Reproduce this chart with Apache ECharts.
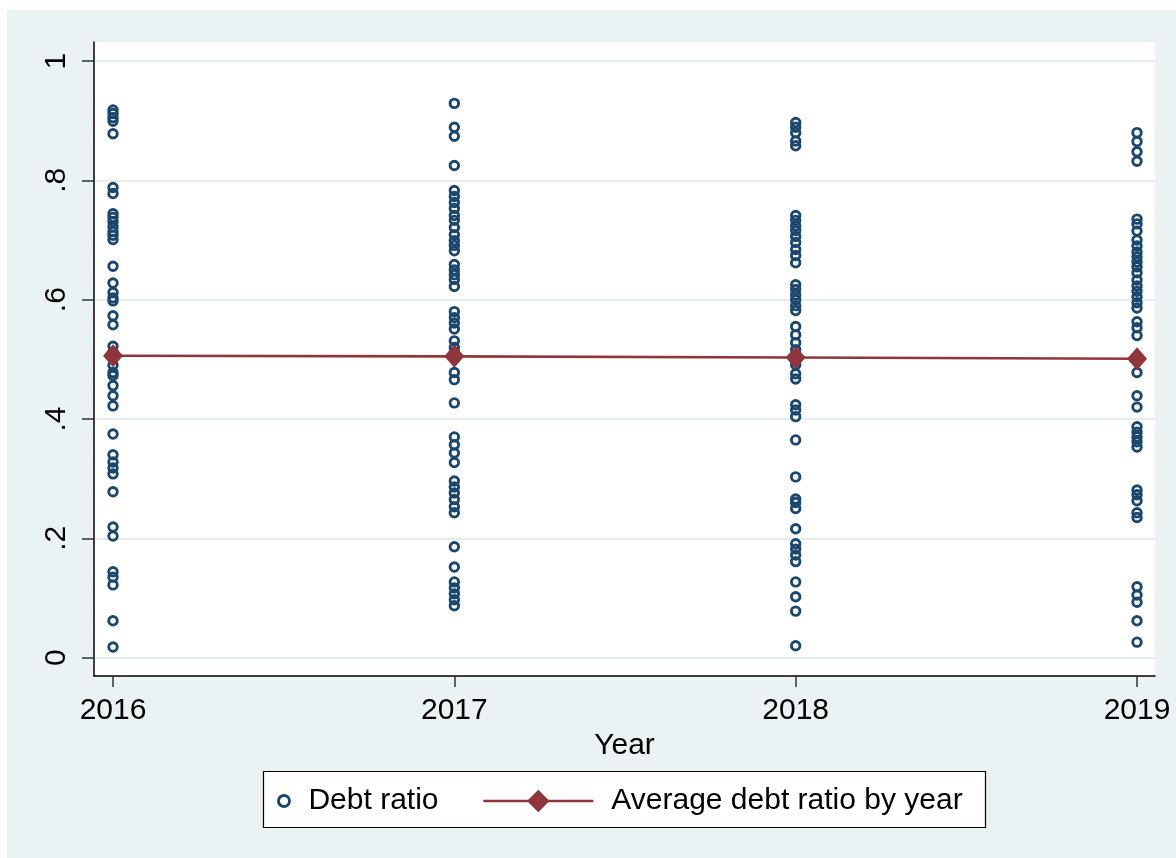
<!DOCTYPE html>
<html>
<head>
<meta charset="utf-8">
<script src="https://cdn.jsdelivr.net/npm/echarts@6/dist/echarts.min.js"></script>
<style>
  html, body { margin: 0; padding: 0; background: #ffffff; }
  #chart { width: 1176px; height: 858px; }
</style>
</head>
<body>
<div id="chart"></div>
<script>
// Years on the x axis
const years = [2016, 2017, 2018, 2019];

// Firm-level debt ratios, one list per year
const debt2016 = [0.918, 0.912, 0.905, 0.899, 0.878, 0.788, 0.778, 0.744, 0.738, 0.731, 0.722, 0.714, 0.708, 0.701,
  0.656, 0.628, 0.612, 0.603, 0.598, 0.573, 0.558, 0.522, 0.512, 0.49, 0.478, 0.473, 0.456, 0.439, 0.422,
  0.375, 0.34, 0.328, 0.318, 0.308, 0.278, 0.219, 0.204, 0.144, 0.135, 0.122, 0.062, 0.018];
const debt2017 = [0.929, 0.889, 0.874, 0.825, 0.783, 0.773, 0.763, 0.753, 0.741, 0.733, 0.721, 0.709, 0.699, 0.691,
  0.682, 0.659, 0.65, 0.642, 0.634, 0.622, 0.58, 0.57, 0.561, 0.551, 0.531, 0.52, 0.512, 0.478, 0.466,
  0.427, 0.37, 0.357, 0.343, 0.327, 0.296, 0.286, 0.276, 0.265, 0.253, 0.243, 0.186, 0.152, 0.127, 0.117,
  0.107, 0.097, 0.087];
const debt2018 = [0.897, 0.889, 0.88, 0.866, 0.858, 0.741, 0.733, 0.724, 0.716, 0.706, 0.696, 0.684, 0.674, 0.662,
  0.625, 0.617, 0.608, 0.6, 0.59, 0.582, 0.555, 0.541, 0.528, 0.516, 0.491, 0.476, 0.467, 0.424, 0.415,
  0.404, 0.365, 0.303, 0.266, 0.26, 0.25, 0.216, 0.191, 0.182, 0.172, 0.161, 0.127, 0.102, 0.078, 0.02];
const debt2019 = [0.88, 0.865, 0.848, 0.832, 0.735, 0.727, 0.715, 0.7, 0.69, 0.68, 0.672, 0.663, 0.655, 0.645,
  0.633, 0.623, 0.614, 0.605, 0.595, 0.586, 0.563, 0.553, 0.54, 0.478, 0.439, 0.42, 0.387, 0.378, 0.37,
  0.362, 0.353, 0.281, 0.273, 0.263, 0.243, 0.235, 0.119, 0.105, 0.093, 0.062, 0.026];

// Yearly averages
const avgDebt = [0.506, 0.505, 0.503, 0.501];

// Axis tick values and their labels
const yTicks = [0, 0.2, 0.4, 0.6, 0.8, 1];
const yTickLabels = ['0', '.2', '.4', '.6', '.8', '1'];

const seriesNames = ['Debt ratio', 'Average debt ratio by year'];

const debtByYear = [debt2016, debt2017, debt2018, debt2019];
const scatterData = [];
debtByYear.forEach(function (vals, i) {
  vals.forEach(function (v) { scatterData.push([years[i], v]); });
});
const avgData = years.map(function (y, i) { return [y, avgDebt[i]]; });

const FONT = '"Liberation Sans", Arial, sans-serif';
const FS = 30;
const NAVY = '#1A476F';
const MAROON = '#90353B';
const BG = '#EAF2F3';

const chart = echarts.init(document.getElementById('chart'), null, { renderer: 'canvas' });

chart.setOption({
  animation: false,
  backgroundColor: '#ffffff',
  textStyle: { fontFamily: FONT },
  graphic: [
    { type: 'rect', z: -10, silent: true,
      shape: { x: 7, y: 10, width: 1169, height: 848 },
      style: { fill: BG } },
    { type: 'rect', z: 5, silent: true,
      shape: { x: 263.5, y: 771.5, width: 722, height: 56 },
      style: { fill: '#ffffff', stroke: '#000000', lineWidth: 1.2 } }
  ],
  grid: {
    left: 94, right: 21, top: 42, bottom: 182,
    show: true, backgroundColor: '#ffffff', borderWidth: 0
  },
  xAxis: {
    type: 'value',
    min: 2016 - 0.0557,
    max: 2019 + 0.0527,
    name: 'Year',
    nameLocation: 'middle',
    nameGap: 43,
    nameTextStyle: { fontSize: FS, color: '#000', fontFamily: FONT },
    axisLine: { show: true, onZero: false, lineStyle: { color: '#000', width: 1.5 } },
    axisTick: { show: true, length: 11, customValues: years, lineStyle: { color: '#333', width: 1.5 } },
    axisLabel: {
      customValues: years, margin: 20, fontSize: FS, color: '#000', fontFamily: FONT,
      formatter: function (v) { return String(Math.round(v)); }
    },
    splitLine: { show: false }
  },
  yAxis: {
    type: 'value',
    min: -0.0307,
    max: 1.0319,
    axisLine: { show: true, onZero: false, lineStyle: { color: '#000', width: 1.5 } },
    axisTick: { show: true, length: 12, customValues: yTicks, lineStyle: { color: '#333', width: 1.5 } },
    axisLabel: {
      customValues: yTicks, rotate: 90, margin: 22, fontSize: FS, color: '#000', fontFamily: FONT,
      formatter: function (v) {
        const idx = yTicks.findIndex(function (t) { return Math.abs(t - v) < 1e-6; });
        return idx >= 0 ? yTickLabels[idx] : '';
      }
    },
    splitLine: { show: true, lineStyle: { color: '#E4EDEF', width: 2 } }
  },
  legend: [
    {
      data: [seriesNames[0]],
      left: 272, top: 781,
      itemWidth: 11, itemHeight: 11,
      icon: 'circle',
      itemStyle: { color: 'rgba(0,0,0,0)', borderColor: NAVY, borderWidth: 2.9 },
      textStyle: { fontSize: FS, color: '#000', fontFamily: FONT, padding: [0, 0, 0, 14] },
      z: 10
    },
    {
      data: [seriesNames[1]],
      left: 477, top: 781,
      itemWidth: 110, itemHeight: 28,
      lineStyle: { color: MAROON, width: 2.6 },
      textStyle: { fontSize: FS, color: '#000', fontFamily: FONT, padding: [0, 0, 0, 13] },
      z: 10
    }
  ],
  series: [
    {
      name: seriesNames[0],
      type: 'scatter',
      data: scatterData,
      symbol: 'circle',
      symbolSize: 8.5,
      itemStyle: { color: 'rgba(0,0,0,0)', borderColor: NAVY, borderWidth: 2.9, opacity: 1 },
      z: 2
    },
    {
      name: seriesNames[1],
      type: 'line',
      data: avgData,
      symbol: 'diamond',
      symbolSize: [20, 23],
      itemStyle: { color: MAROON },
      lineStyle: { color: MAROON, width: 2.6 },
      z: 3
    }
  ]
});
</script>
</body>
</html>
